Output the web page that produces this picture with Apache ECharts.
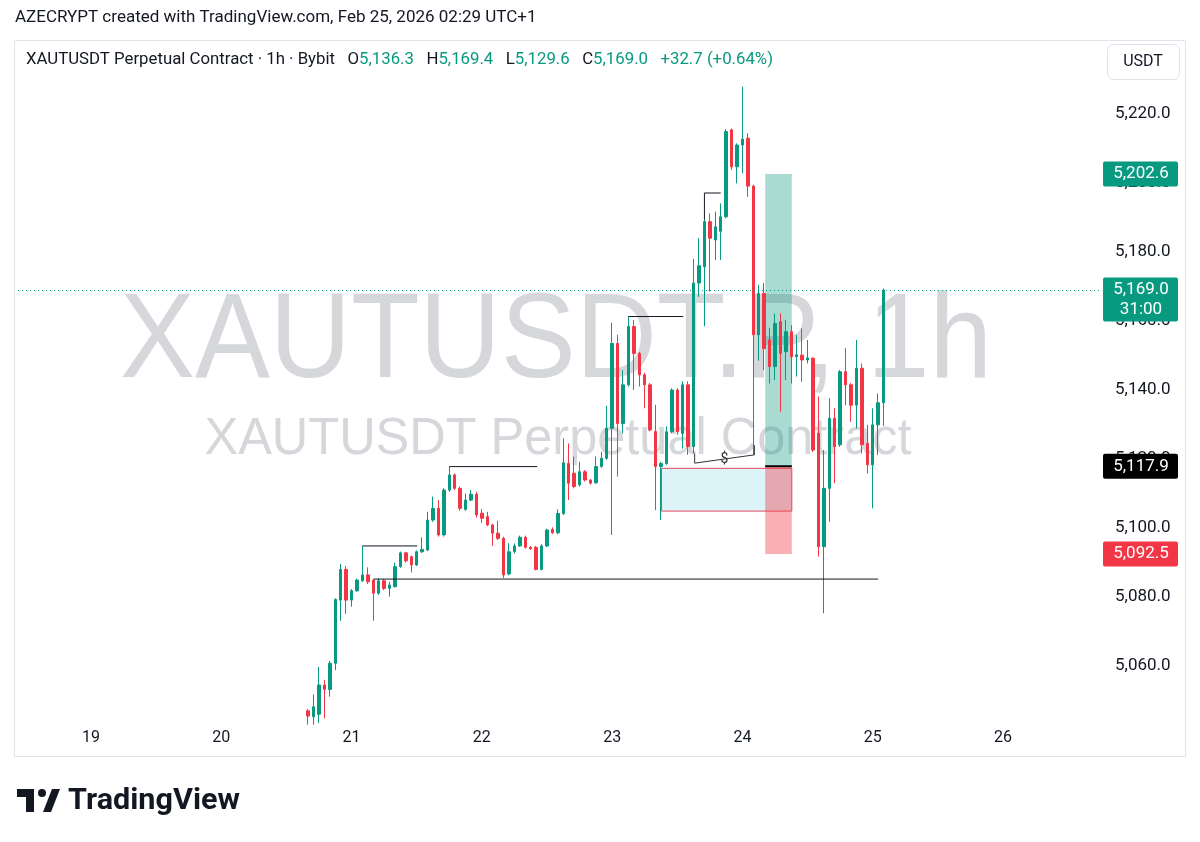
<!DOCTYPE html>
<html><head><meta charset="utf-8">
<script src="https://cdn.jsdelivr.net/npm/echarts@6/dist/echarts.min.js"></script>
<style>html,body{margin:0;padding:0;background:#fff;}#c{width:1200px;height:842px;}</style>
</head><body><div id="c"></div>
<script>
// ---- data (hourly candles, x = hours since Feb 19 00:00; first candle = Feb 20 16:00) ----
const startHour = 40;
const opens = [5047.0,5045.3,5046.0,5054.5,5053.2,5060.8,5079.1,5088.0,
5079.1,5081.8,5084.7,5086.4,5084.9,5081.1,5084.7,5082.5,5083.0,5088.8,5092.8,5091.7,5089.3,5093.1,5093.6,5102.3,5105.7,5098.0,5111.0,5115.4,5111.5,5105.4,5108.1,5109.8,
5104.3,5103.3,5100.9,5098.5,5097.0,5086.7,5093.1,5094.8,5097.3,5094.4,5094.4,5088.0,5094.8,5099.6,5098.6,5104.2,5118.7,5115.9,5112.5,5116.3,5113.9,5113.1,5117.8,5120.2,
5128.9,5153.5,5130.3,5141.5,5158.4,5150.6,5144.4,5141.5,5128.0,5117.8,5118.7,5127.9,5140.0,5127.4,5141.5,5123.6,5171.0,5175.7,5188.8,5183.5,5186.0,5190.2,5215.4,5204.7,
5211.0,5213.0,5199.1,5156.0,5168.0,5154.5,5146.8,5159.8,5151.1,5156.9,5149.7,5150.1,5148.7,5149.2,5127.5,5094.6,5111.5,5131.8,5124.1,5145.3,5141.5,5135.6,5146.3,5124.5,
5118.3,5129.9,5136.3];
const highs = [5047.5,5051.7,5059.7,5056.0,5061.5,5079.6,5089.6,5089.0,
5082.3,5085.3,5094.8,5088.6,5085.3,5085.4,5085.2,5084.4,5090.0,5093.2,5093.1,5092.0,5093.5,5097.3,5104.7,5109.1,5108.1,5111.5,5117.8,5115.8,5112.0,5110.0,5111.0,5110.5,
5105.5,5104.7,5101.2,5102.1,5097.5,5095.6,5095.5,5097.8,5097.8,5094.8,5094.8,5095.3,5099.8,5100.2,5105.4,5126.0,5124.5,5120.7,5119.2,5116.8,5114.2,5120.7,5122.1,5135.4,
5159.5,5156.0,5145.8,5161.3,5160.3,5151.0,5145.0,5142.0,5135.7,5119.2,5129.5,5140.5,5140.5,5142.5,5142.5,5178.0,5184.0,5189.3,5191.2,5191.7,5194.1,5215.6,5215.8,5211.5,
5227.9,5214.4,5199.5,5170.5,5171.0,5158.0,5162.2,5162.2,5160.3,5158.8,5155.9,5157.9,5154.5,5149.5,5138.1,5122.6,5137.6,5134.7,5145.8,5152.1,5142.0,5154.5,5147.7,5129.9,
5134.7,5139.0,5169.4];
const lows = [5043.0,5043.0,5043.5,5044.8,5051.1,5058.8,5073.1,5075.1,
5077.2,5081.5,5084.4,5083.8,5073.1,5080.6,5082.0,5080.1,5082.8,5088.5,5090.0,5087.1,5089.0,5092.8,5093.3,5101.8,5097.5,5097.5,5110.5,5111.0,5105.0,5105.0,5107.8,5103.0,
5101.5,5100.5,5094.8,5096.5,5085.5,5086.3,5092.6,5094.5,5094.0,5093.7,5087.7,5087.7,5094.5,5098.3,5098.2,5103.8,5108.1,5111.5,5112.0,5113.5,5112.6,5112.8,5117.5,5119.8,
5098.0,5114.9,5127.4,5141.0,5140.0,5141.0,5134.7,5128.0,5105.2,5102.3,5118.3,5127.5,5127.0,5123.0,5121.2,5121.5,5167.0,5158.5,5168.5,5177.7,5177.7,5189.8,5203.8,5199.9,
5202.8,5196.0,5121.2,5148.5,5145.8,5141.9,5142.9,5133.7,5142.9,5141.9,5143.9,5142.4,5147.7,5122.0,5091.7,5075.3,5101.8,5113.0,5123.5,5135.6,5130.8,5128.9,5121.6,5115.8,
5105.7,5121.2,5129.6];
const closes = [5045.5,5048.2,5054.5,5053.2,5060.8,5079.3,5088.0,5079.1,
5081.8,5084.9,5086.4,5084.4,5081.1,5084.7,5082.5,5083.5,5088.8,5092.8,5090.5,5089.3,5093.1,5093.8,5102.3,5105.7,5098.0,5111.0,5115.4,5111.5,5105.7,5108.1,5109.8,5103.8,
5102.8,5100.9,5098.5,5097.0,5086.4,5093.1,5094.8,5097.3,5094.4,5094.0,5088.0,5094.8,5099.4,5098.6,5104.2,5118.9,5113.0,5112.0,5116.3,5113.9,5113.0,5117.8,5120.2,5128.9,
5153.5,5130.3,5141.5,5158.4,5150.6,5144.4,5141.5,5128.4,5117.8,5118.7,5127.9,5140.0,5127.9,5141.5,5123.6,5171.0,5176.0,5188.8,5184.0,5187.3,5190.2,5214.9,5204.7,5211.0,
5212.7,5199.1,5156.0,5168.0,5152.0,5146.8,5159.3,5150.6,5156.9,5149.6,5150.2,5148.7,5149.3,5122.6,5094.6,5111.5,5131.8,5123.6,5145.3,5141.5,5135.6,5146.3,5124.1,5118.3,
5129.9,5136.3,5169.0];

const dayLabels = ['19','20','21','22','23','24','25','26'];
const dayTickHours = [0,24,48,72,96,120,144,168];
const priceTicks = [5060,5080,5100,5120,5140,5160,5180,5200,5220];

// drawn annotations (data coordinates: hour, price)
const levelLines = [
  {from:50, to:60.1, price:5094.8},
  {from:66, to:82.2, price:5117.8},
  {from:52.1, to:145, price:5085.2},
  {from:99, to:109.1, price:5161.3}
];
const bracketTop = [[113,5189.3],[113,5197.1],[116,5197.1]];
const sweepPath = [[111.2,5121.6],[111.2,5118.8],[122.2,5121.2],[122.2,5124.0]];
const sweepLabel = {hour:116.7, price:5120.0, text:'$'};
const fvgBox = {from:105.1, to:129.1, top:5117.3, bottom:5104.9};
const longPos = {from:124.2, to:129.1, target:5202.6, entry:5117.9, stop:5092.5};
const countdown = '31:00';

// ---- chart ----
const GREEN = '#089981', RED = '#f23645', TXT = '#131722';
const FONT = 'Roboto, "Noto Sans", sans-serif';
const fmt = v => v.toLocaleString('en-US', {minimumFractionDigits:1, maximumFractionDigits:1});
const candles = opens.map((o, i) => [startHour + i, o, closes[i], lows[i], highs[i]]);
const last = opens.length - 1;
const lastClose = closes[last];

const chart = echarts.init(document.getElementById('c'), null, {renderer:'canvas'});

const lineSeries = levelLines.map(l => ({
  type:'line', data:[[l.from,l.price],[l.to,l.price]], symbol:'none', silent:true,
  lineStyle:{color:TXT, width:1}, z:4, animation:false
}));

chart.setOption({
  animation:false,
  backgroundColor:'#ffffff',
  grid:{left:14, right:100, top:40, bottom:122},
  xAxis:{
    type:'value', min:-14.18, max:185.87,
    axisLine:{show:false}, axisTick:{show:false}, splitLine:{show:false},
    axisLabel:{customValues:dayTickHours, margin:10, color:TXT, fontSize:16, fontFamily:FONT,
      formatter:v => dayLabels[dayTickHours.indexOf(Math.round(v))] || ''}
  },
  yAxis:{
    type:'value', position:'right', min:5044.35, max:5241.45, scale:true,
    axisLine:{show:false}, axisTick:{show:false}, splitLine:{show:false},
    axisLabel:{customValues:priceTicks, margin:15, color:TXT, fontSize:17, fontFamily:FONT,
      formatter:v => fmt(v)}
  },
  series:[
    {
      type:'candlestick', data:candles, encode:{x:0, y:[1,2,3,4]}, barWidth:3, z:3, clip:true,
      itemStyle:{color:GREEN, color0:RED, borderColor:GREEN, borderColor0:RED, borderWidth:1},
      markLine:{silent:true, symbol:'none', label:{show:false},
        lineStyle:{color:GREEN, type:[1,3], width:1},
        data:[{yAxis:lastClose}]},
      markArea:{silent:true, label:{show:false},
        data:[
          [{xAxis:fvgBox.from, yAxis:fvgBox.top, itemStyle:{color:'#dcf3f8', borderColor:'#e04a5a', borderWidth:1}},
           {xAxis:fvgBox.to, yAxis:fvgBox.bottom}],
          [{xAxis:longPos.from, yAxis:longPos.target, itemStyle:{color:'rgba(8,153,129,0.35)'}},
           {xAxis:longPos.to, yAxis:longPos.entry}],
          [{xAxis:longPos.from, yAxis:longPos.entry, itemStyle:{color:'rgba(242,54,69,0.4)'}},
           {xAxis:longPos.to, yAxis:longPos.stop}]
        ]}
    },
    ...lineSeries,
    {type:'line', data:bracketTop, symbol:'none', silent:true, lineStyle:{color:TXT,width:1}, z:4},
    {type:'line', data:sweepPath, symbol:'none', silent:true, lineStyle:{color:'#333',width:1}, z:4},
    {type:'line', data:[[longPos.from,longPos.entry],[longPos.to,longPos.entry]], symbol:'none', silent:true,
      lineStyle:{color:'#000',width:2}, z:5}
  ]
});

// ---- overlay texts / price tags ----
const cv = document.createElement('canvas').getContext('2d');
function fitScale(text, font, target){ cv.font = font; const w = cv.measureText(text).width; return w > 0 ? target / w : 1; }
const px = (h, v) => chart.convertToPixel({gridIndex:0}, [h, v]);
const yOf = v => px(0, v)[1];

const wm1 = 'XAUTUSDT.P, 1h', wm1Font = '120px "Liberation Sans"';
const wm2 = 'XAUTUSDT Perpetual Contract', wm2Font = '52px "Liberation Sans"';
const tvFont = 'bold 30px Roboto';

const chg = closes[last] - closes[last - 1];
const pct = chg / closes[last - 1] * 100;
const sg = chg >= 0 ? '+' : '';
const legendText = '{n|XAUTUSDT Perpetual Contract · 1h · Bybit}   {k|O}{v|' + fmt(opens[last]) + '}   {k|H}{v|' + fmt(highs[last]) +
  '}   {k|L}{v|' + fmt(lows[last]) + '}   {k|C}{v|' + fmt(closes[last]) + '}   {v|' + sg + chg.toFixed(1) + ' (' + sg + pct.toFixed(2) + '%)}';
const LF = 16.8;

function tag(v, bg, lines){
  const y = yOf(v);
  const h = lines.length > 1 ? 44 : 25;
  const els = [{type:'rect', z:100, shape:{x:1103, y:y - 12.5, width:75, height:h, r:2}, style:{fill:bg}}];
  lines.forEach((t, i) => els.push({type:'text', z:101, x:1141, y:y + i * 20,
    style:{text:t, fill:'#fff', font:'17px ' + FONT, align:'center', verticalAlign:'middle'}}));
  return els;
}
const sw = px(sweepLabel.hour, sweepLabel.price);

chart.setOption({graphic:[
  {type:'text', z:-1, x:556, y:344, scaleX:fitScale(wm1, wm1Font, 872),
    style:{text:wm1, font:wm1Font, fill:'#d6d7db', align:'center', verticalAlign:'middle'}},
  {type:'text', z:-1, x:558, y:440, scaleX:fitScale(wm2, wm2Font, 707),
    style:{text:wm2, font:wm2Font, fill:'#d6d7db', align:'center', verticalAlign:'middle'}},
  {type:'rect', z:50, shape:{x:14.5, y:40.5, width:1171, height:716}, style:{fill:null, stroke:'#e0e3eb', lineWidth:1}},
  {type:'text', z:50, x:15, y:18, style:{text:'AZECRYPT created with TradingView.com, Feb 25, 2026 02:29 UTC+1',
    font:'17px ' + FONT, fill:TXT, verticalAlign:'middle'}},
  {type:'text', z:50, x:26, y:60, style:{text:legendText, verticalAlign:'middle', font:LF + 'px ' + FONT,
    rich:{n:{fill:TXT, fontSize:LF, fontFamily:FONT}, k:{fill:TXT, fontSize:LF, fontFamily:FONT}, v:{fill:GREEN, fontSize:LF, fontFamily:FONT}}}},
  {type:'rect', z:50, shape:{x:1107.5, y:44.5, width:72, height:35, r:6}, style:{fill:'#fff', stroke:'#e0e3eb', lineWidth:1}},
  {type:'text', z:51, x:1143, y:62, style:{text:'USDT', font:'16px ' + FONT, fill:TXT, align:'center', verticalAlign:'middle'}},
  {type:'text', z:60, x:sw[0], y:sw[1], style:{text:sweepLabel.text, font:'14px ' + FONT, fill:'#333', align:'center', verticalAlign:'middle'}},
  ...tag(longPos.target, GREEN, [fmt(longPos.target)]),
  ...tag(lastClose, GREEN, [fmt(lastClose), countdown]),
  ...tag(longPos.entry, '#000000', [fmt(longPos.entry)]),
  ...tag(longPos.stop, RED, [fmt(longPos.stop)]),
  // TradingView logo
  {type:'rect', z:50, shape:{x:17, y:789, width:17, height:8}, style:{fill:'#131722'}},
  {type:'rect', z:50, shape:{x:26, y:789, width:8, height:23}, style:{fill:'#131722'}},
  {type:'circle', z:50, shape:{cx:42, cy:793, r:4}, style:{fill:'#131722'}},
  {type:'polygon', z:50, shape:{points:[[43,812],[52,789],[60,789],[51,812]]}, style:{fill:'#131722'}},
  {type:'text', z:50, x:68, y:801, scaleX:fitScale('TradingView', tvFont, 172),
    style:{text:'TradingView', font:tvFont, fill:'#131722', verticalAlign:'middle'}}
]});
</script></body></html>
